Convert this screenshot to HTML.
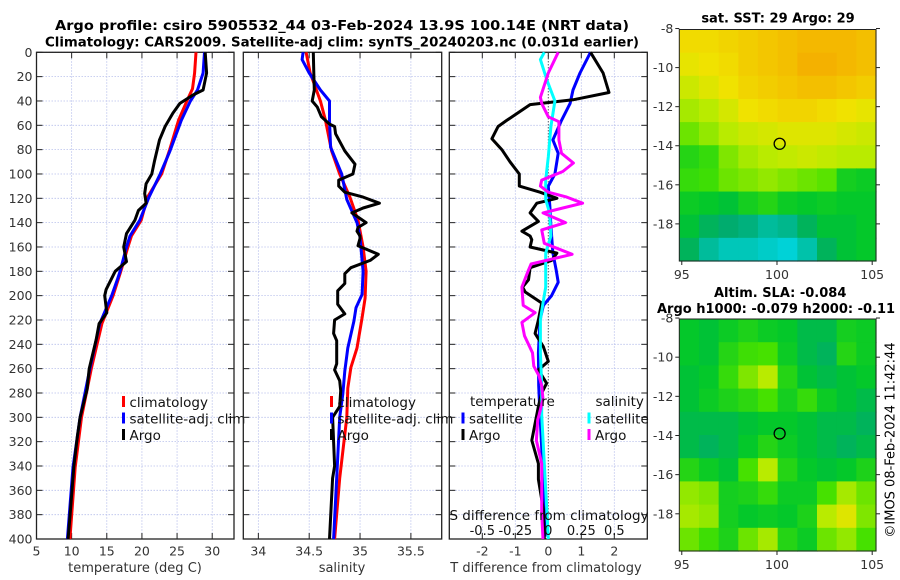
<!DOCTYPE html>
<html><head><meta charset="utf-8">
<style>
html,body{margin:0;padding:0;background:#fff;}
svg{display:block;font-family:"DejaVu Sans","Liberation Sans",sans-serif;}
</style></head>
<body>
<svg id="fig" width="900" height="580" viewBox="0 0 900 580">
<text x="55" y="30" font-size="13" font-weight="bold" textLength="574" lengthAdjust="spacingAndGlyphs">Argo profile: csiro 5905532_44 03-Feb-2024 13.9S 100.14E (NRT data)</text>
<text x="45" y="46.5" font-size="13" font-weight="bold" textLength="594" lengthAdjust="spacingAndGlyphs">Climatology: CARS2009. Satellite-adj clim: synTS_20240203.nc (0.031d earlier)</text>
<g id="p1"></g>
<g id="p2"></g>
<g id="p3"></g>
<g id="m1"></g>
<g id="m2"></g>
<text x="891" y="440" font-size="13" text-anchor="middle" transform="rotate(-90 891 440)" dominant-baseline="middle">©IMOS 08-Feb-2024 11:42:44</text>
</svg>
<script>
// ---------- data ----------
const depthTicks = [0,20,40,60,80,100,120,140,160,180,200,220,240,260,280,300,320,340,360,380,400];
const tempTicks = [5,10,15,20,25,30];
const salTicks = [34,34.5,35,35.5];
const tdiffTicks = [-2,-1,0,1,2];
const sdiffTicks = [-0.5,-0.25,0,0.25,0.5];
const sdiffTickLabels = ["-0.5","-0.25","0","0.25","0.5"];

const tempClimDepth = [0,17,30,40,56,81,100,119,138,151,160,180,200,223,260,300,341,400];
const tempClim =      [27.7,27.5,27.2,26.4,25.2,23.9,22.8,20.8,19.9,18.5,18.0,17.0,15.9,14.3,12.8,11.4,10.5,9.75];
const tempSatDepth = [0,17,31,40,56,81,100,119,138,151,160,180,187,200,223,260,300,341,400];
const tempSat =      [28.9,28.7,27.9,26.9,25.6,24.0,22.6,21.0,19.7,18.3,17.8,16.9,16.5,15.7,14.0,12.6,11.2,10.2,9.4];
const tempArgoDepth = [0,17,31,35,42,50,61,72,89,100,108,116,124,130,138,149,160,172,180,195,200,214,223,236,260,277,300,316,341,379,400];
const tempArgo =      [29.0,29.2,28.7,27.3,25.4,24.4,23.3,22.5,21.8,21.4,20.6,20.4,20.6,19.5,19.0,17.8,17.4,17.8,16.2,14.9,14.7,15.0,13.9,13.5,12.5,12.2,11.2,10.8,10.3,9.8,9.5];

const salClimDepth = [0,17,40,56,81,100,119,138,160,180,202,218,243,259,276,300,350,400];
const salClim =      [34.47,34.51,34.61,34.66,34.72,34.80,34.90,34.98,35.03,35.06,35.05,35.02,34.97,34.91,34.88,34.87,34.80,34.75];
const salSatDepth = [0,6,17,31,40,56,78,100,121,140,152,180,199,210,221,243,262,281,300,350,400];
const salSat =      [34.44,34.43,34.50,34.61,34.70,34.70,34.71,34.82,34.87,34.97,35.0,35.03,35.02,34.96,34.94,34.88,34.85,34.83,34.80,34.77,34.74];
const salArgoDepth = [0,17,31,40,45,53,59,61,67,81,92,100,105,110,115,119,124,128,132,140,144,147,151,153,159,166,171,177,182,190,196,207,215,220,231,237,256,261,270,278,291,300,340,350,400];
const salArgo =      [34.54,34.545,34.55,34.53,34.58,34.62,34.70,34.75,34.76,34.85,34.95,34.93,34.79,34.79,34.85,35.03,35.19,35.03,34.92,35.06,34.98,34.97,35.0,35.0,34.98,35.18,35.1,34.91,34.85,34.85,34.78,34.78,34.85,34.75,34.74,34.77,34.77,34.75,34.80,34.81,34.80,34.73,34.75,34.73,34.70];

const tdSatDepth = [0,17,31,42,56,72,83,100,110,127,143,165,179,189,200,208,220,247,274,298,325,351,398];
const tdSat =      [1.28,0.96,0.75,0.66,0.4,0.14,0.3,0.2,0,0.05,0.08,0.14,0.24,0.3,0.1,-0.15,-0.25,-0.3,-0.29,-0.25,-0.2,-0.16,-0.1];
const tdArgoDepth = [0,17,33,39,43,47,56,61,71,80,90,100,110,115,120,124,132,139,147,151,154,160,165,171,177,187,193,197,206,220,231,242,254,261,272,280,291,319,338,351,376,400];
const tdArgo =      [1.28,1.66,1.84,0.75,-0.55,-0.77,-1.26,-1.52,-1.71,-1.41,-1.16,-0.88,-0.88,-0.25,0.26,-0.35,-0.55,-0.3,-0.8,-0.55,-0.5,-0.55,0.26,0.1,-0.55,-0.6,-0.78,-0.7,-0.2,-0.3,-0.4,-0.15,0,-0.3,-0.05,-0.2,-0.3,-0.5,-0.3,-0.3,-0.15,-0.12];
const sdSatDepth = [0,6,23,40,61,86,105,121,132,151,165,193,206,220,247,274,298,338,379,400];
const sdSat =      [-0.03,-0.06,-0.01,0.05,0.02,0,-0.02,-0.02,0.01,0.02,-0.02,-0.02,-0.04,-0.06,-0.06,-0.05,-0.05,-0.03,-0.01,0];
const sdArgoDepth = [0,17,37,42,53,57,72,83,91,98,105,110,115,119,124,128,132,140,146,157,166,174,179,193,208,214,222,233,247,258,266,274,285,298,302,319,338,379,400];
const sdArgo =      [0.075,0,-0.06,-0.05,0,0.08,0.08,0.1,0.19,0.11,-0.05,-0.06,0,0.14,0.26,0.11,-0.04,0.13,-0.05,-0.03,0.18,-0.13,-0.15,-0.2,-0.19,-0.1,-0.2,-0.18,-0.12,-0.11,-0.07,-0.05,-0.04,-0.07,-0.08,-0.09,-0.05,-0.05,-0.04];

const lonTicks = [95,100,105];
const latTicks = [-8,-10,-12,-14,-16,-18];
const sstGrid = [
 [3.3,3.3,3.4,3.5,3.6,3.7,3.8,3.8,3.8,3.7],
 [3.1,3.2,3.3,3.5,3.6,3.7,3.9,3.9,3.8,3.7],
 [2.8,3.0,3.2,3.4,3.5,3.6,3.7,3.7,3.6,3.5],
 [2.5,2.6,2.9,3.2,3.3,3.4,3.4,3.3,3.2,3.1],
 [2.2,2.4,2.6,2.8,2.9,3.0,3.0,3.0,2.9,2.8],
 [1.6,1.8,2.3,2.5,2.6,2.7,2.8,2.7,2.6,2.6],
 [1.8,1.9,2.2,2.3,2.4,2.3,2.2,2.1,1.4,1.3],
 [1.3,1.2,1.1,1.4,1.6,1.3,1.2,1.3,1.2,1.2],
 [1.1,0.9,0.8,0.7,0.5,0.6,0.9,1.1,1.1,1.2],
 [0.9,0.5,0.3,0.3,0.2,0.1,0.4,0.9,1.1,1.2]];
const slaGrid = [
 [1.2,1.1,1.3,1.5,1.3,1.2,1.0,1.0,1.4,1.3],
 [1.2,1.1,1.6,1.9,2.0,1.3,1.0,0.9,1.6,1.3],
 [1.1,1.2,1.8,2.3,2.6,1.6,1.1,1.0,1.1,1.2],
 [1.1,1.3,1.5,1.7,2.0,1.4,1.8,1.3,1.1,1.0],
 [1.0,1.0,1.0,1.1,1.2,1.2,1.1,1.0,1.0,0.9],
 [1.0,0.9,1.0,1.2,1.6,1.3,1.1,1.0,0.9,1.0],
 [1.6,1.3,1.1,2.0,2.6,1.6,1.2,1.1,1.2,1.5],
 [2.4,2.3,1.4,1.5,1.8,1.3,1.3,2.0,2.5,2.2],
 [2.5,2.4,1.4,1.2,1.3,1.2,1.5,2.6,3.0,2.3],
 [2.2,1.9,1.5,2.2,2.5,1.6,1.3,2.2,2.4,2.0]];
const argoLon = 100.14, argoLat = -13.9;

// ---------- helpers ----------
const NS="http://www.w3.org/2000/svg";
function mk(tag, attrs, parent){const e=document.createElementNS(NS,tag);for(const k in attrs)e.setAttribute(k,attrs[k]);parent.appendChild(e);return e;}
const TOP=52.3, BOT=539;
const yD = d => TOP + d*(BOT-TOP)/400;
function lin(d0,d1,r0,r1){return v => r0+(v-d0)*(r1-r0)/(d1-d0);}

function panelFrame(g, x0, x1, xs, xTicks, xLabels, showY){
  depthTicks.forEach(d=>{
    const y=yD(d);
    const gl=mk('line',{x1:x0,x2:x1,y1:y,y2:y,stroke:'#b8c0ec','stroke-width':0.8,'stroke-dasharray':'1.5,1.5'},g);
    
    
    mk('line',{x1:x0,x2:x0+6,y1:y,y2:y,stroke:'#222','stroke-width':1},g);
    mk('line',{x1:x1-6,x2:x1,y1:y,y2:y,stroke:'#222','stroke-width':1},g);
    if(showY){
      const t=mk('text',{x:x0-4,y:y+4.5,'text-anchor':'end','font-size':12.5,fill:'#333'},g);
      t.textContent=d;
      
      
    }
  });
  xTicks.forEach((v,i)=>{
    const x=xs(v);
    const gl=mk('line',{x1:x,x2:x,y1:TOP,y2:BOT,stroke:'#b8c0ec','stroke-width':0.8,'stroke-dasharray':'1.5,1.5'},g);
    
    
    mk('line',{x1:x,x2:x,y1:BOT-6,y2:BOT,stroke:'#222','stroke-width':1},g);
    mk('line',{x1:x,x2:x,y1:TOP,y2:TOP+6,stroke:'#222','stroke-width':1},g);
    const t=mk('text',{x:x,y:555.5,'text-anchor':'middle','font-size':12.5,fill:'#333'},g);
    t.textContent=xLabels[i];
    
    
  });
  const r=mk('rect',{x:x0,y:TOP,width:x1-x0,height:BOT-TOP,fill:'none',stroke:'#222','stroke-width':1.3},g);
  
  
}
function line(g, xs, depths, vals, color, name){
  const pts=depths.map((d,i)=>xs(vals[i]).toFixed(1)+','+yD(d).toFixed(1)).join(' ');
  const p=mk('polyline',{points:pts,fill:'none',stroke:color,'stroke-width':3,'stroke-linejoin':'round'},g);
  
  
}
function legendRow(g,x,y,color,label,name){
  const b=mk('rect',{x:x-1.5,y:y-6,width:3,height:11,fill:color},g);
  
  
  const t=mk('text',{x:x+6,y:y+5,'font-size':13.5,fill:'#111'},g);
  t.textContent=label;
  
  
}
function xlabel(g,x,text,name){
  const t=mk('text',{x:x,y:572,'text-anchor':'middle','font-size':13,fill:'#333'},g);
  t.textContent=text;
  
  
}

// ---------- panel 1 ----------
const p1=document.getElementById('p1');
const xT=lin(5,33.1,36.5,234);
panelFrame(p1,36.5,234,xT,tempTicks,tempTicks.map(String),true);
line(p1,xT,tempClimDepth,tempClim,'#ff0000','temp-climatology-line');
line(p1,xT,tempSatDepth,tempSat,'#0000ff','temp-satellite-line');
line(p1,xT,tempArgoDepth,tempArgo,'#000000','temp-argo-line');
legendRow(p1,123.5,402,'#ff0000','climatology','legend-climatology');
legendRow(p1,123.5,418.5,'#0000ff','satellite-adj. clim','legend-satellite-adj');
legendRow(p1,123.5,435,'#000000','Argo','legend-argo');
xlabel(p1,135,'temperature (deg C)','temperature-axis-title');

// ---------- panel 2 ----------
const p2=document.getElementById('p2');
const xS=lin(33.852,35.803,243.3,441.7);
panelFrame(p2,243.3,441.7,xS,salTicks,salTicks.map(String),false);
line(p2,xS,salClimDepth,salClim,'#ff0000','sal-climatology-line');
line(p2,xS,salSatDepth,salSat,'#0000ff','sal-satellite-line');
line(p2,xS,salArgoDepth,salArgo,'#000000','sal-argo-line');
legendRow(p2,331.5,402,'#ff0000','climatology','legend-climatology');
legendRow(p2,331.5,418.5,'#0000ff','satellite-adj. clim','legend-satellite-adj');
legendRow(p2,331.5,435,'#000000','Argo','legend-argo');
xlabel(p2,342,'salinity','salinity-axis-title');

// ---------- panel 3 ----------
const p3=document.getElementById('p3');
const xTd=lin(-3,3,449.3,647.3);
const xSd=v=>xTd(v*4);
panelFrame(p3,449.3,647.3,xTd,tdiffTicks,tdiffTicks.map(String),false);
const zl=mk('line',{x1:xTd(0),x2:xTd(0),y1:TOP,y2:BOT,stroke:'#333','stroke-width':1,'stroke-dasharray':'1,2'},p3);


line(p3,xTd,tdSatDepth,tdSat,'#0000ff','tdiff-satellite-line');
line(p3,xTd,tdArgoDepth,tdArgo,'#000000','tdiff-argo-line');
line(p3,xSd,sdSatDepth,sdSat,'#00ffff','sdiff-satellite-line');
line(p3,xSd,sdArgoDepth,sdArgo,'#ff00ff','sdiff-argo-line');
(function(){
  let t=mk('text',{x:470,y:406,'font-size':13.5,fill:'#111'},p3);t.textContent='temperature';
  
  
  t=mk('text',{x:595.5,y:406,'font-size':13.5,fill:'#111'},p3);t.textContent='salinity';
  
  
})();
legendRow(p3,463,418.5,'#0000ff','satellite','legend-t-satellite');
legendRow(p3,463,435,'#000000','Argo','legend-t-argo');
legendRow(p3,589,418.5,'#00ffff','satellite','legend-s-satellite');
legendRow(p3,589,435,'#ff00ff','Argo','legend-s-argo');
(function(){
  const t=mk('text',{x:549,y:520,'text-anchor':'middle','font-size':13.5,fill:'#111'},p3);
  t.textContent='S difference from climatology';
  
  
  sdiffTicks.forEach((v,i)=>{
    const l=mk('text',{x:xSd(v),y:535,'text-anchor':'middle','font-size':13,fill:'#111'},p3);
    l.textContent=sdiffTickLabels[i];
    
    
  });
})();
xlabel(p3,546,'T difference from climatology','t-diff-axis-title');

// ---------- maps ----------
const stops=[[0,[0,215,230]],[0.8,[0,172,110]],[1.15,[0,198,45]],[2,[70,225,0]],[2.6,[185,235,0]],[3.2,[240,226,0]],[4,[245,170,0]]];
function cmap(v){
  for(let i=1;i<stops.length;i++){
    if(v<=stops[i][0]){const a=stops[i-1],b=stops[i];const f=(v-a[0])/(b[0]-a[0]);
      return 'rgb('+a[1].map((c,k)=>Math.round(c+(b[1][k]-c)*f)).join(',')+')';}
  }
  return 'rgb(245,170,0)';
}
function drawMap(g,grid,y0,y1,title,titleName){
  const x0=679.3,x1=876;
  const xL=lin(94.87,105.2,x0,x1);
  const yL=lin(-8.05,-19.9,y0,y1);
  const rows=grid.length, cols=grid[0].length;
  const cw=(x1-x0)/cols, ch=(y1-y0)/rows;
  grid.forEach((row,r)=>row.forEach((v,c)=>{
    const cell=mk('rect',{x:(x0+c*cw).toFixed(2),y:(y0+r*ch).toFixed(2),width:(cw+0.6).toFixed(2),height:(ch+0.6).toFixed(2),fill:cmap(v)},g);
    
    
  }));
  const fr=mk('rect',{x:x0,y:y0,width:x1-x0,height:y1-y0,fill:'none',stroke:'#222','stroke-width':1},g);
  
  
  latTicks.forEach(v=>{
    const y=yL(v);
    mk('line',{x1:x0-4,x2:x0,y1:y,y2:y,stroke:'#222'},g);
    mk('line',{x1:x1,x2:x1+4,y1:y,y2:y,stroke:'#222'},g);
    const t=mk('text',{x:x0-6,y:y+4.5,'text-anchor':'end','font-size':12.5,fill:'#333'},g);
    t.textContent=v;
    
    
  });
  lonTicks.forEach(v=>{
    const x=xL(v);
    mk('line',{x1:x,x2:x,y1:y1,y2:y1+4,stroke:'#222'},g);
    const t=mk('text',{x:x,y:y1+18,'text-anchor':'middle','font-size':12.5,fill:'#333'},g);
    t.textContent=v;
    
    
  });
  const c=mk('circle',{cx:xL(argoLon),cy:yL(argoLat),r:5.5,fill:'none',stroke:'#000','stroke-width':1.3},g);
  
  
  title.forEach((tt,i)=>{
    const t=mk('text',{x:tt[0],y:tt[1],'text-anchor':tt[2],'font-size':13,'font-weight':'bold'},g);
    t.textContent=tt[3];
    
    
  });
}
drawMap(document.getElementById('m1'),sstGrid,29.5,261,[[778,22.5,'middle','sat. SST: 29 Argo: 29']],'sst-map-title');
drawMap(document.getElementById('m2'),slaGrid,319,551,[[714,297,'start','Altim. SLA: -0.084'],[657,313,'start','Argo h1000: -0.079 h2000: -0.11']],'sla-map-title');
</script>
</body></html>
